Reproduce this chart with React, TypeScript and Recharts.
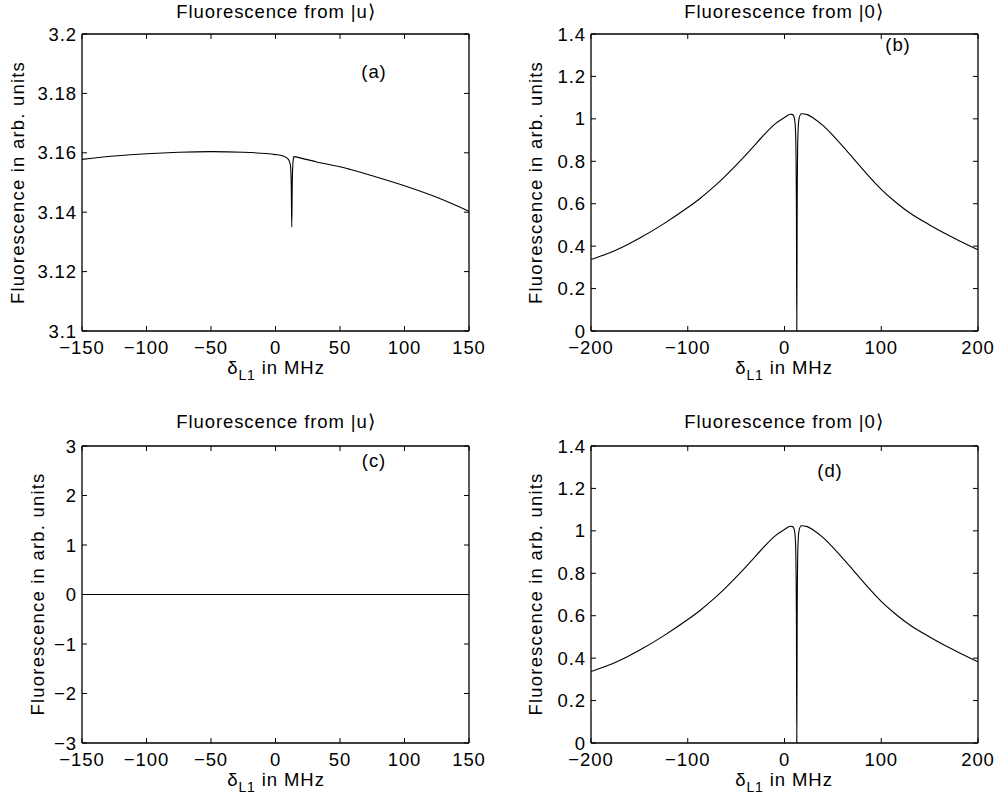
import { LineChart, Line, XAxis, YAxis } from "recharts";

// panel (a): fluorescence from |u>, detuning -150..150 MHz
const aFreq = [-150, -125, -100, -75, -50, -25, 0, 6, 10, 11.5, 12.2, 12.6, 13, 13.6, 14.3, 19, 32, 50, 58, 75, 97, 125, 150];
const aSignal = [3.1578, 3.1589, 3.1597, 3.1602, 3.1604, 3.1602, 3.1594, 3.1589, 3.1578, 3.156, 3.15, 3.135, 3.15, 3.157, 3.1587, 3.1583, 3.1569, 3.1553, 3.1544, 3.1523, 3.1493, 3.145, 3.1403];

// panel (b): fluorescence from |0>, detuning -200..200 MHz
const bFreq = [-200, -187.5, -175, -162.5, -150, -125, -100, -87, -75, -62, -50, -35, -20, -10, 0, 6, 8.5, 10.4, 11.5, 12.3, 12.7, 13.1, 13.9, 15, 17.3, 23.5, 30, 40, 50, 60, 70, 85, 100, 115, 130, 150, 165, 180, 200];
const bSignal = [0.337, 0.357, 0.38, 0.407, 0.437, 0.505, 0.582, 0.626, 0.672, 0.727, 0.782, 0.855, 0.93, 0.975, 1.006, 1.022, 1.02, 1.0, 0.93, 0.6, 0, 0.6, 0.93, 1.0, 1.024, 1.02, 1.003, 0.968, 0.922, 0.872, 0.82, 0.741, 0.668, 0.607, 0.555, 0.5, 0.462, 0.427, 0.383];

// panel (c): flat zero line
const cFreq = [-150, 150];
const cSignal = [0, 0];

// panel (d): same trace as (b)
const dFreq = bFreq;
const dSignal = bSignal;

const xTicks150 = [-150, -100, -50, 0, 50, 100, 150];
const xTicks200 = [-200, -100, 0, 100, 200];
const yTicksA = [3.1, 3.12, 3.14, 3.16, 3.18, 3.2];
const yTicksB = [0, 0.2, 0.4, 0.6, 0.8, 1, 1.2, 1.4];
const yTicksC = [-3, -2, -1, 0, 1, 2, 3];

const FONT = "'Liberation Sans', Arial, Helvetica, sans-serif";
const FS = 18.5;
const LS = 0.9;
const tickStyle = { fill: "#000", fontSize: FS, fontFamily: FONT, letterSpacing: LS };

const fmtNum = (v: number) => {
  const s = String(Number(v.toFixed(3)));
  return s.replace("-", "\u2212");
};
const blank = () => "";

const toRows = (xs: number[], ys: number[]) => xs.map((x, i) => ({ x, y: ys[i] }));

type PanelProps = {
  left: number;
  top: number;
  height: number;
  rows: { x: number; y: number }[];
  xTicks: number[];
  yTicks: number[];
};

const Panel = ({ left, top, height, rows, xTicks, yTicks }: PanelProps) => {
  const xDomain = [xTicks[0], xTicks[xTicks.length - 1]];
  const yDomain = [yTicks[0], yTicks[yTicks.length - 1]];
  const axisLine = { stroke: "#000", strokeWidth: 1.3 };
  const tickLine = { stroke: "#000", strokeWidth: 1 };
  return (
    <div style={{ position: "absolute", left, top }}>
      <LineChart
        width={500}
        height={height}
        data={rows}
        margin={{ top: 33, right: 30, bottom: height - 332, left: 81 }}
      >
        <XAxis
          dataKey="x"
          type="number"
          domain={xDomain}
          ticks={xTicks}
          allowDataOverflow
          height={1}
          tickSize={-5}
          tickMargin={15}
          tick={tickStyle}
          tickFormatter={fmtNum}
          axisLine={axisLine}
          tickLine={tickLine}
          interval={0}
        />
        <XAxis
          xAxisId="top"
          orientation="top"
          dataKey="x"
          type="number"
          domain={xDomain}
          ticks={xTicks}
          allowDataOverflow
          height={1}
          tickSize={-5}
          tickFormatter={blank}
          axisLine={axisLine}
          tickLine={tickLine}
          interval={0}
        />
        <YAxis
          type="number"
          domain={yDomain}
          ticks={yTicks}
          allowDataOverflow
          width={1}
          tickSize={-5}
          tickMargin={10}
          tick={tickStyle}
          tickFormatter={fmtNum}
          axisLine={axisLine}
          tickLine={tickLine}
          interval={0}
        />
        <YAxis
          yAxisId="right"
          orientation="right"
          type="number"
          domain={yDomain}
          ticks={yTicks}
          allowDataOverflow
          width={1}
          tickSize={-5}
          tickFormatter={blank}
          axisLine={axisLine}
          tickLine={tickLine}
          interval={0}
        />
        <Line
          dataKey="y"
          type="monotone"
          stroke="#000"
          strokeWidth={1.1}
          dot={false}
          isAnimationActive={false}
        />
      </LineChart>
    </div>
  );
};

const XLabel = ({ cx, y }: { cx: number; y: number }) => (
  <text x={cx} y={y} textAnchor="middle" fontSize={FS} letterSpacing={LS} fontFamily={FONT} fill="#000">
    δ
    <tspan dy={6} fontSize={14}>L1</tspan>
    <tspan dy={-6}> in MHz</tspan>
  </text>
);

const YLabel = ({ x, cy }: { x: number; cy: number }) => (
  <text
    x={x}
    y={cy}
    transform={`rotate(-90, ${x}, ${cy})`}
    textAnchor="middle"
    fontSize={FS}
    letterSpacing={LS + 0.3}
    fontFamily={FONT}
    fill="#000"
  >
    Fluorescence in arb. units
  </text>
);

const Title = ({ cx, y, text }: { cx: number; y: number; text: string }) => (
  <text x={cx} y={y} textAnchor="middle" fontSize={FS} letterSpacing={LS} fontFamily={FONT} fill="#000">
    {text}
  </text>
);

export default function App() {
  return (
    <div
      style={{
        position: "absolute",
        left: 0,
        top: 0,
        width: 999,
        height: 798,
        background: "#fff",
        overflow: "hidden",
        fontFamily: FONT,
      }}
    >
      <Panel left={0} top={0} height={400} rows={toRows(aFreq, aSignal)} xTicks={xTicks150} yTicks={yTicksA} />
      <Panel left={509} top={0} height={400} rows={toRows(bFreq, bSignal)} xTicks={xTicks200} yTicks={yTicksB} />
      <Panel left={0} top={412} height={370} rows={toRows(cFreq, cSignal)} xTicks={xTicks150} yTicks={yTicksC} />
      <Panel left={509} top={412} height={370} rows={toRows(dFreq, dSignal)} xTicks={xTicks200} yTicks={yTicksB} />
      <svg
        width={999}
        height={798}
        style={{ position: "absolute", left: 0, top: 0, pointerEvents: "none" }}
      >
        <Title cx={276} y={18} text="Fluorescence from |u⟩" />
        <Title cx={784} y={18} text="Fluorescence from |0⟩" />
        <Title cx={276} y={428} text="Fluorescence from |u⟩" />
        <Title cx={784} y={428} text="Fluorescence from |0⟩" />

        <Title cx={374} y={78} text="(a)" />
        <Title cx={898} y={51} text="(b)" />
        <Title cx={374} y={467} text="(c)" />
        <Title cx={830} y={477} text="(d)" />

        <XLabel cx={276} y={374} />
        <XLabel cx={784} y={374} />
        <XLabel cx={276} y={786} />
        <XLabel cx={784} y={786} />

        <YLabel x={24} cy={182.5} />
        <YLabel x={542} cy={182.5} />
        <YLabel x={44} cy={594} />
        <YLabel x={542} cy={594} />
      </svg>
    </div>
  );
}
